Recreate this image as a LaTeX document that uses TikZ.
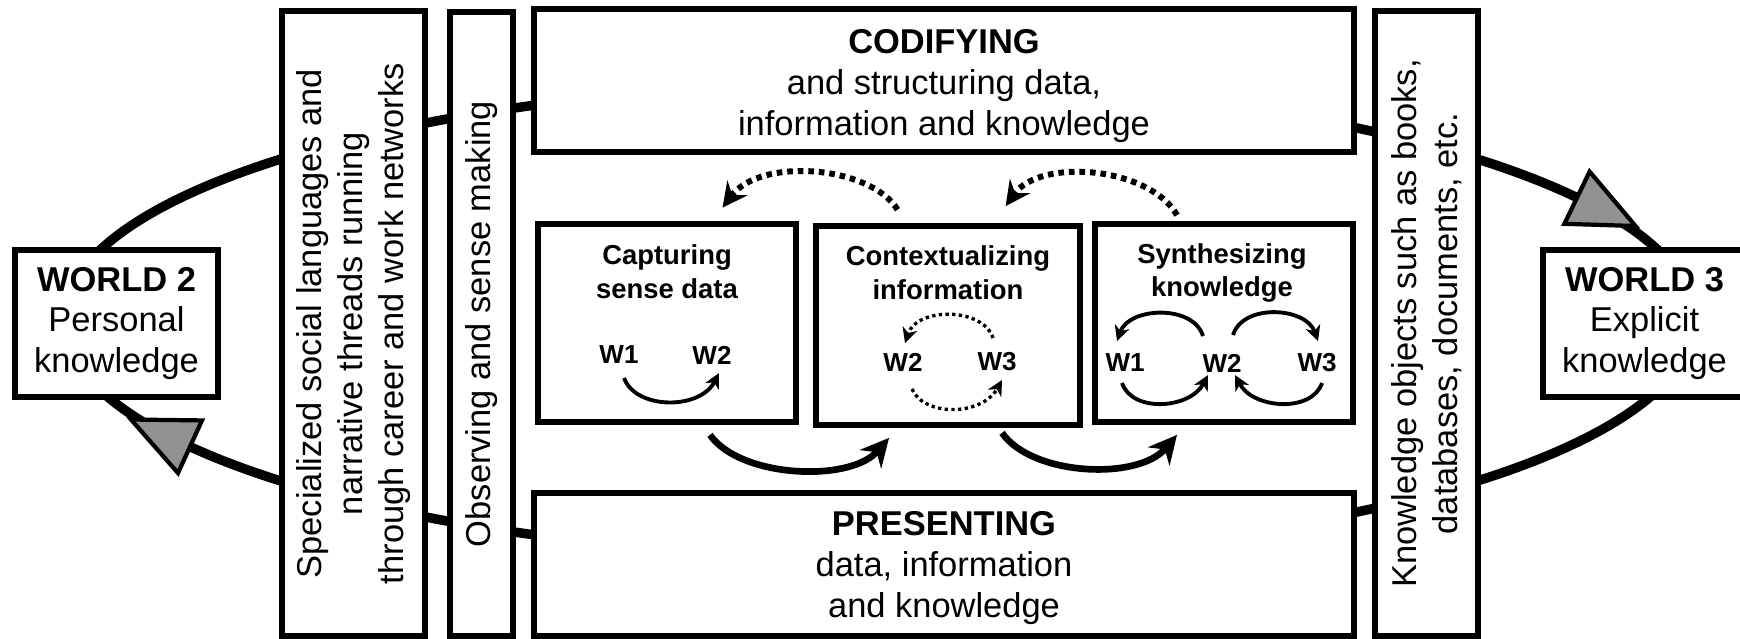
\documentclass[tikz,border=0pt]{standalone}
\usepackage{fontspec}
\setmainfont{Liberation Sans}
\usetikzlibrary{arrows.meta,calc}
\begin{document}
\begin{tikzpicture}[x=0.01cm,y=-0.01cm,
  box/.style={draw, line width=1.6pt, fill=white, inner sep=0pt},
  bigtxt/.style={font=\fontsize{9.8}{11.6}\selectfont, align=center, inner sep=0pt},
  ttl/.style={font=\fontsize{7.8}{9.6}\selectfont\bfseries, align=center, inner sep=0pt},
  wl/.style={font=\fontsize{7.4}{8}\selectfont\bfseries, inner sep=0pt},
  ring/.style={line width=2.7pt},
  bigarr/.style={line width=1.9pt, -{Stealth[length=8pt,width=8pt,inset=2.6pt]}},
  dotarr/.style={line width=1.7pt, dash pattern=on 1.6pt off 1.4pt, -{Stealth[length=7pt,width=7pt,inset=2.4pt]}},
  smarr/.style={line width=1.1pt, -{Stealth[length=4.3pt,width=4.3pt,inset=1.3pt]}},
  smdot/.style={line width=0.95pt, dash pattern=on 0.95pt off 0.95pt, -{Stealth[length=4.3pt,width=4.3pt,inset=1.3pt]}},
  tri/.style={draw, line width=1.2pt, fill={rgb,255:red,145;green,145;blue,145}, line join=miter}
]
\useasboundingbox (0,0) rectangle (1740,638);

% outer ring
\draw[ring] (879,320) ellipse [x radius=815, y radius=237];

% boxes
\node[box, bigtxt, minimum width=2.03cm, minimum height=1.47cm] (w2) at (116.5,323.5) {\textbf{WORLD 2}\\Personal\\knowledge};
\node[box, minimum width=1.43cm, minimum height=6.25cm] (spec) at (353.5,323.5) {};
\node[box, minimum width=0.63cm, minimum height=6.24cm] (obs) at (481.5,324) {};
\node[box, minimum width=8.20cm, minimum height=1.43cm] (cod) at (944,80.5) {};
\node[box, minimum width=8.20cm, minimum height=1.43cm] (pres) at (944,564.5) {};
\node[box, minimum width=2.58cm, minimum height=1.98cm] (cap) at (667,323) {};
\node[box, minimum width=2.64cm, minimum height=1.99cm] (ctx) at (948,325.5) {};
\node[box, minimum width=2.58cm, minimum height=1.98cm] (syn) at (1224,323) {};
\node[box, minimum width=1.03cm, minimum height=6.25cm] (know) at (1426.5,323.5) {};
\node[box, bigtxt, minimum width=2.03cm, minimum height=1.47cm] (w3) at (1644.5,323.5) {\textbf{WORLD 3}\\Explicit\\knowledge};

% texts of the boxes
\node[bigtxt, rotate=90] (spect) at (spec) {Specialized social languages and\\narrative threads running\\through career and work networks};
\node[bigtxt, rotate=90] (obst) at (obs) {Observing and sense making};
\node[bigtxt, rotate=90] (knowt) at (know) {Knowledge objects such as books,\\databases, documents, etc.};
\node[bigtxt] (codt) at (944,86) {\textbf{CODIFYING}\\and structuring data,\\information and knowledge};
\node[bigtxt] (prest) at (944,568) {\textbf{PRESENTING}\\data, information\\and knowledge};

\node[ttl] (capt) at (667,272) {Capturing\\sense data};
\node[ttl] (ctxt) at (948,273) {Contextualizing\\information};
\node[ttl] (synt) at (1222,273) {Synthesizing\\knowledge};

% W labels
\node[wl] (cw1) at (619,355) {W1};
\node[wl] (cw2) at (712,355) {W2};
\node[wl] (xw2) at (903,362) {W2};
\node[wl] (xw3) at (997,362) {W3};
\node[wl] (sw1) at (1125,363) {W1};
\node[wl] (sw2) at (1222,363) {W2};
\node[wl] (sw3) at (1317,363) {W3};

% small arrows
\draw[smarr] ($(cw1)+(5,23)$) .. controls +(12,32) and +(-19,37) .. ($(cw2)+(7,18)$);
\draw[smdot] ($(xw3)+(-4,-24)$) .. controls +(-10,-31) and +(12,-36) .. ($(xw2)+(2,-19)$);
\draw[smdot] ($(xw2)+(9,27)$) .. controls +(12,28) and +(-20,36) .. ($(xw3)+(5,18)$);
\draw[smarr] ($(sw2)+(-19,-27)$) .. controls +(-10,-32) and +(12,-34) .. ($(sw1)+(-8,-22)$);
\draw[smarr] ($(sw2)+(11,-28)$) .. controls +(10,-32) and +(-12,-34) .. ($(sw3)+(1,-22)$);
\draw[smarr] ($(sw1)+(-3,20)$) .. controls +(10,30) and +(-18,34) .. ($(sw2)+(-14,12)$);
\draw[smarr] ($(sw3)+(5,20)$) .. controls +(-10,30) and +(18,34) .. ($(sw2)+(13,12)$);

% big arrows between process boxes
\draw[bigarr] ($(cap.south)+(43,10)$) .. controls +(30,43) and +(-39,45) .. ($(ctx.south)+(-59,10)$);
\draw[bigarr] ($(ctx.south)+(54,5)$) .. controls +(30,43) and +(-39,46) .. ($(syn.south)+(-47,10)$);
\draw[dotarr] ($(ctx.north)+(-50.5,-13.5)$) .. controls +(-27,-44) and +(38,-51) .. ($(cap.north)+(55.5,-13.4)$);
\draw[dotarr] ($(syn.north)+(-47,-6)$) .. controls +(-27,-48) and +(35,-49) .. ($(ctx.north)+(57.6,-17)$);

% grey arrow heads on the ring
\draw[tri] (131,419.5) -- (202,420.4) -- (178,473) -- cycle;
\draw[tri] (1635.5,226) -- (1589.6,171.6) -- (1564.4,223.8) -- cycle;
\end{tikzpicture}
\end{document}
